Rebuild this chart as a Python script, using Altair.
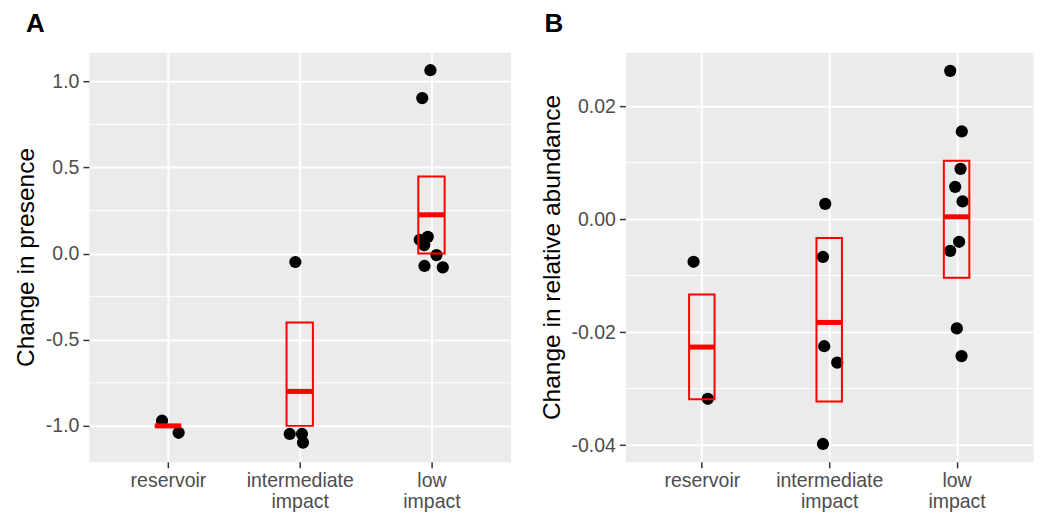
import json
import altair as alt
import pandas as pd

# ---------------- data ----------------
CATEGORIES = [["reservoir"], ["intermediate", "impact"], ["low", "impact"]]
CAT_INDEX = [1, 2, 3]

# Panel A: change in presence
A_pt_cat = [1, 1, 2, 2, 2, 2, 3, 3, 3, 3, 3, 3, 3, 3]
A_pt_jit = [-0.045, 0.081, -0.033, -0.076, 0.017, 0.025,
            -0.008, -0.070, -0.089, -0.028, -0.055, 0.038, -0.053, 0.086]
A_pt_val = [-0.97, -1.04, -0.049, -1.047, -1.047, -1.097,
            1.064, 0.902, 0.080, 0.097, 0.049, -0.009, -0.072, -0.080]
A_lower = [-1.0, -1.0, 0.0]
A_mean = [-1.0, -0.8, 0.225]
A_upper = [-1.0, -0.4, 0.447]
A_major = [-1.0, -0.5, 0.0, 0.5, 1.0]
A_minor = [-0.75, -0.25, 0.25, 0.75]

# Panel B: change in relative abundance
B_pt_cat = [1, 1, 2, 2, 2, 2, 2, 3, 3, 3, 3, 3, 3, 3, 3, 3]
B_pt_jit = [-0.065, 0.047, -0.031, -0.049, -0.039, 0.063, -0.049,
            -0.050, 0.041, 0.031, -0.011, 0.047, 0.020, -0.050, 0.002, 0.039]
B_pt_val = [-0.00755, -0.0318, 0.0027, -0.0067, -0.0225, -0.0254, -0.0398,
            0.02625, 0.01552, 0.0089, 0.00572, 0.00313, -0.00401, -0.00561,
            -0.01935, -0.02425]
B_lower = [-0.0319, -0.03227, -0.01039]
B_mean = [-0.02265, -0.01829, 0.00041]
B_upper = [-0.01333, -0.00336, 0.01032]
B_major = [-0.04, -0.02, 0.0, 0.02]
B_minor = [-0.03, -0.01, 0.01]

FONT = "Liberation Sans"
RED = "#FF0000"


def panel(pt_cat, pt_jit, pt_val, lower, mean, upper, major, minor,
          ydomain, yfmt, ytitle, width, label, title_dx):
    pts = pd.DataFrame({"cat": pt_cat, "jit": pt_jit, "val": pt_val})
    bars = pd.DataFrame({"cat": CAT_INDEX, "lower": lower, "mean": mean, "upper": upper})
    grid = pd.DataFrame({"m": minor})

    xs = alt.Scale(domain=[0.4, 3.6], nice=False, zero=False)
    ys = alt.Scale(domain=ydomain, nice=False, zero=False)
    x_axis = alt.Axis(values=CAT_INDEX, title=None, labelFlush=False,
                      labelExpr=json.dumps(CATEGORIES) + "[round(datum.value) - 1]")
    y_axis = alt.Axis(values=major, title=ytitle, labelFlush=False,
                      labelExpr="replace(format(datum.value, '" + yfmt + "'), '\u2212', '-')")

    minor_rules = alt.Chart(grid).mark_rule(color="white", strokeWidth=1).encode(
        y=alt.Y("m:Q", scale=ys, axis=y_axis))

    points = alt.Chart(pts).transform_calculate(px="datum.cat + datum.jit").mark_circle(
        size=150, color="black", opacity=1).encode(
        x=alt.X("px:Q", scale=xs, axis=x_axis),
        y=alt.Y("val:Q", scale=ys, axis=y_axis))

    base = alt.Chart(bars).transform_calculate(
        lo="datum.cat - 0.1", hi="datum.cat + 0.1")
    box = base.mark_rect(stroke=RED, strokeWidth=2, fillOpacity=0).encode(
        x=alt.X("lo:Q", scale=xs, axis=x_axis), x2="hi:Q",
        y=alt.Y("lower:Q", scale=ys, axis=y_axis), y2="upper:Q")
    mid = base.mark_rule(color=RED, strokeWidth=5).encode(
        x=alt.X("lo:Q", scale=xs, axis=x_axis), x2="hi:Q",
        y=alt.Y("mean:Q", scale=ys, axis=y_axis))

    return alt.layer(minor_rules, points, box, mid).properties(
        width=width, height=410,
        title=alt.TitleParams(label, dx=title_dx, offset=15))


chartA = panel(A_pt_cat, A_pt_jit, A_pt_val, A_lower, A_mean, A_upper,
               A_major, A_minor, [-1.2085, 1.1685], ".1f",
               "Change in presence", 422, "A", -63)
chartB = panel(B_pt_cat, B_pt_jit, B_pt_val, B_lower, B_mean, B_upper,
               B_major, B_minor, [-0.04296, 0.02955], ".2f",
               "Change in relative abundance", 408, "B", -81)

chart = alt.hconcat(chartA, chartB).properties(
    padding={"left": 4, "top": 2, "right": 5, "bottom": 0}
).configure_concat(spacing=27).configure_view(
    fill="#EBEBEB", stroke="transparent"
).configure_axis(
    domain=False, gridColor="white", gridWidth=2,
    tickColor="#333333", tickSize=6, tickWidth=1.5,
    labelColor="#4D4D4D", labelFont=FONT, labelFontSize=19.5, labelPadding=4,
    labelLineHeight=21,
    titleFont=FONT, titleFontSize=24.5, titleFontWeight="normal",
    titleColor="black", titlePadding=7
).configure_title(
    font=FONT, fontSize=26, fontWeight="bold", anchor="start",
    frame="group", color="black"
)

chart.save("out.html", embed_options={"renderer": "svg", "actions": False})
